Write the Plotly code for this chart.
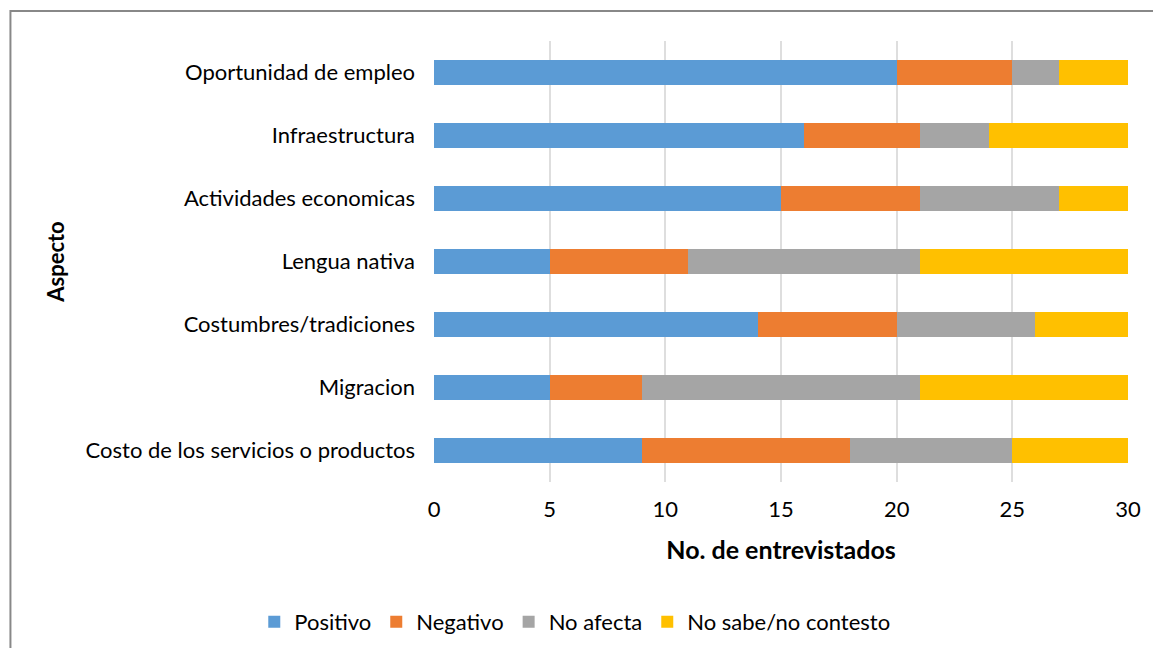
import plotly.graph_objects as go

aspectos = [
    "Costo de los servicios o productos",
    "Migracion",
    "Costumbres/tradiciones",
    "Lengua nativa",
    "Actividades economicas",
    "Infraestructura",
    "Oportunidad de empleo",
]
positivo = [9, 5, 14, 5, 15, 16, 20]
negativo = [9, 4, 6, 6, 6, 5, 5]
no_afecta = [7, 12, 6, 10, 6, 3, 2]
no_sabe = [5, 9, 4, 9, 3, 6, 3]

series = [
    ("Positivo", positivo, "#5b9bd5"),
    ("Negativo", negativo, "#ed7d31"),
    ("No afecta", no_afecta, "#a5a5a5"),
    ("No sabe/no contesto", no_sabe, "#ffc000"),
]

FONT = "Lato, Carlito, Calibri, sans-serif"

# page body has an 8px margin, so the figure starts at (8, 8)
W, H = 1145, 640

fig = go.Figure()
for name, vals, color in series:
    fig.add_trace(go.Bar(
        y=aspectos, x=vals, name=name, orientation="h",
        marker=dict(color=color, line=dict(width=0)),
    ))

fig.update_layout(
    barmode="stack",
    bargap=0.6,
    width=W, height=H,
    margin=dict(l=426, r=21, t=33, b=166),
    plot_bgcolor="white", paper_bgcolor="white",
    font=dict(family=FONT, size=22, color="#000000"),
    legend=dict(
        orientation="h", xref="container", x=0.495, xanchor="center",
        yref="container", y=1 - 614 / H, yanchor="middle",
        font=dict(size=22), itemwidth=30, traceorder="normal",
    ),
    xaxis=dict(
        range=[0, 30], dtick=5, showgrid=True, gridcolor="#dedede", gridwidth=2,
        zeroline=False, showline=False, ticks="", ticklabelstandoff=12,
        title=dict(text="<b>No. de entrevistados</b>", font=dict(size=25), standoff=20),
    ),
    yaxis=dict(
        showline=False, ticks="", ticklabelstandoff=18,
        title=dict(text="<b>Aspecto</b>", font=dict(size=22), standoff=14),
    ),
)

# outer frame of the chart area
fig.add_shape(
    type="rect", xref="paper", yref="paper",
    x0=(0 - 426) / 698, x1=(1160 - 426) / 698,
    y0=(441 + 33 - 660) / 441, y1=(441 + 33 - 3) / 441,
    line=dict(color="#888888", width=2), fillcolor="rgba(0,0,0,0)", layer="below",
)

fig.write_html("out.html")
